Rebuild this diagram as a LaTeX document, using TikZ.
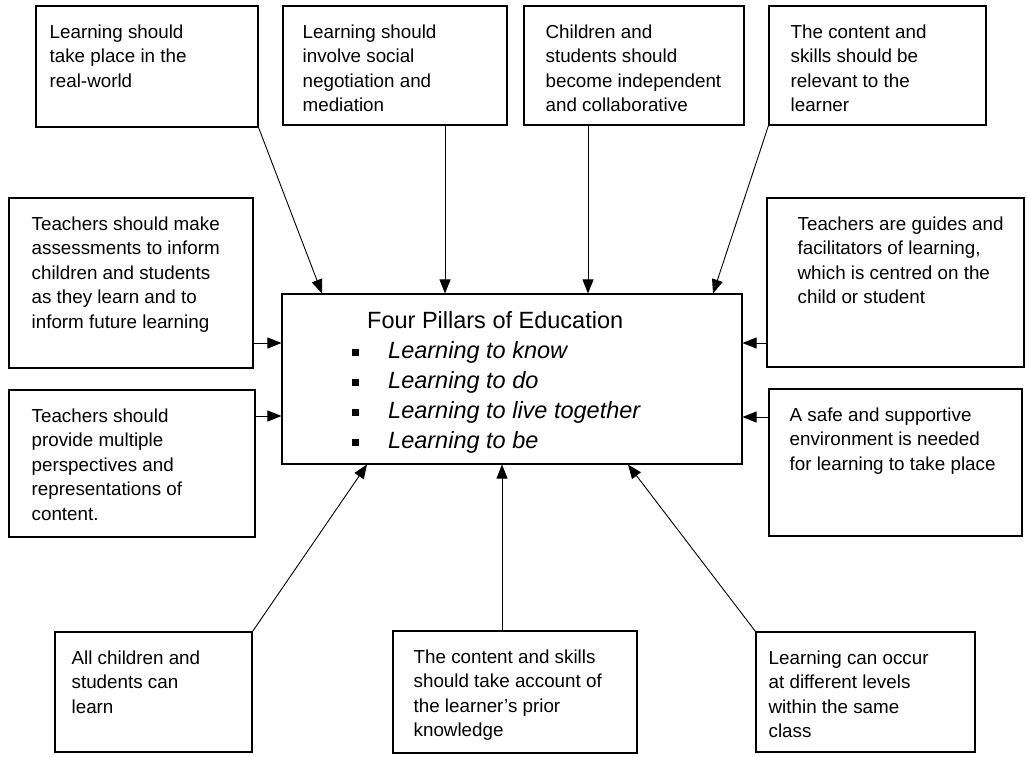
\documentclass[tikz,border=0pt]{standalone}
\usepackage{fontspec}
\setmainfont{Liberation Sans}
\usepackage{tikz}
\usetikzlibrary{arrows.meta}
\tikzset{
  statement/.style={%
    draw,
    rectangle,
    line width=1.1pt,
    inner sep=0,
  },
  statementtext/.style={%
    align=left,
    inner sep=0,
    font=\fontsize{18.8}{24.5}\selectfont,
  },
  pillarbox/.style={%
    draw,
    rectangle,
    line width=1.1pt,
    inner sep=0,
    minimum width=460,
    minimum height=170,
  },
  feed/.style={%
    line width=0.9pt,
    -{Triangle[length=14pt,width=11pt]},
  }
}
\newcommand\Statement[7]{% name, left, top, right, bottom, text indent, text
  \node (#1) [statement,minimum width=#4-#2,minimum height=#5-#3] at ({(#2+#4)/2},{(#3+#5)/2}) {};
  \node (#1-text) [statementtext,anchor=north west] at ([xshift=#6pt,yshift=-19pt]#1.north west) {#7};
}
\newcommand\pillarmark{\makebox[36pt][l]{\raisebox{2.5pt}{\rule{6.5pt}{6.5pt}}}}

\begin{document}
\begin{tikzpicture}[x=1pt,y=-1pt]
    \useasboundingbox (0,0) rectangle (1027,756);
    % centre
    \node (pillars) [pillarbox] at (512,379) {};
    \node (pillarlist) [anchor=north west,inner sep=0,font=\fontsize{23.5}{30}\selectfont] at (352,307) {%
        \begin{tabular}{@{}l@{}l@{}}
            \multicolumn{2}{@{}l@{}}{\hspace{15pt}Four Pillars of Education}\\
            \pillarmark & \textit{Learning to know}\\
            \pillarmark & \textit{Learning to do}\\
            \pillarmark & \textit{Learning to live together}\\
            \pillarmark & \textit{Learning to be}
        \end{tabular}};
    % top row
    \Statement{realworld}{36}{6}{258}{127}{14}{Learning should\\take place in the\\real-world}
    \Statement{social}{283}{6}{507}{125}{20}{Learning should\\involve social\\negotiation and\\mediation}
    \Statement{independent}{524}{6}{744}{125}{22}{Children and\\students should\\become independent\\and collaborative}
    \Statement{relevant}{769}{6}{986}{125}{22}{The content and\\skills should be\\relevant to the\\learner}
    % sides
    \Statement{assess}{9}{198}{253}{368}{23}{Teachers should make\\assessments to inform\\children and students\\as they learn and to\\inform future learning}
    \Statement{perspectives}{9}{390}{255}{537}{23}{Teachers should\\provide multiple\\perspectives and\\representations of\\content.}
    \Statement{guides}{767}{198}{1024}{367}{31}{Teachers are guides and\\facilitators of learning,\\which is centred on the\\child or student}
    \Statement{safe}{769}{389}{1022}{536}{21}{A safe and supportive\\environment is needed\\for learning to take place}
    % bottom row
    \Statement{alllearn}{55}{632}{252}{752}{17}{All children and\\students can\\learn}
    \Statement{prior}{393}{631}{637}{753}{21}{The content and skills\\should take account of\\the learner’s prior\\knowledge}
    \Statement{levels}{756}{632}{975}{752}{13}{Learning can occur\\at different levels\\within the same\\class}
    % arrows
    \draw [feed] (realworld.south east) -- (322,0 |- pillars.north);
    \draw [feed] (445,0 |- social.south) -- (445,0 |- pillars.north);
    \draw [feed] (588,0 |- independent.south) -- (588,0 |- pillars.north);
    \draw [feed] (relevant.south west) -- (713,0 |- pillars.north);
    \draw [feed] (assess.east |- 0,343) -- (pillars.west |- 0,343);
    \draw [feed] (perspectives.east |- 0,416) -- (pillars.west |- 0,416);
    \draw [feed] (guides.west |- 0,343) -- (pillars.east |- 0,343);
    \draw [feed] (safe.west |- 0,417) -- (pillars.east |- 0,417);
    \draw [feed] (alllearn.north east) -- (367,0 |- pillars.south);
    \draw [feed] (502,0 |- prior.north) -- (502,0 |- pillars.south);
    \draw [feed] (levels.north west) -- (628,0 |- pillars.south);
\end{tikzpicture}
\end{document}
